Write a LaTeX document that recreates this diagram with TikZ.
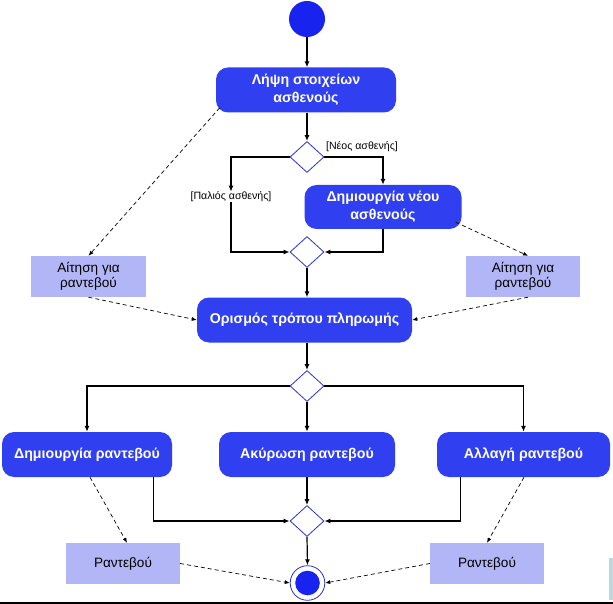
\documentclass[tikz,border=0pt]{standalone}
\usepackage{fontspec}
\setmainfont{Liberation Sans}
\usetikzlibrary{shapes.geometric,arrows.meta,calc}
\definecolor{actblue}{RGB}{48,64,240}
\definecolor{dotblue}{RGB}{25,35,240}
\definecolor{objfill}{RGB}{178,182,247}
\definecolor{diablue}{RGB}{40,50,210}
\definecolor{sliver}{RGB}{192,214,224}
\tikzset{
  act/.style={draw=none,fill=actblue,rounded corners=12pt,text=white,font=\fontsize{14.2}{18}\selectfont\bfseries,align=center,inner sep=0pt},
  obj/.style={draw=none,fill=objfill,text=black,font=\fontsize{13.6}{15.5}\selectfont,align=center,inner sep=0pt},
  dec/.style={diamond,draw=diablue,line width=0.8pt,fill=white,inner sep=0pt,minimum width=34pt,minimum height=31pt,shape aspect=1.1},
  guard/.style={font=\fontsize{10.6}{12}\selectfont,inner sep=0pt},
  flow/.style={line width=1.2pt,-{Latex[length=6pt,width=5pt]}},
  dep/.style={line width=0.7pt,dash pattern=on 4pt off 3pt,-{Latex[length=5pt,width=4pt]}}
}
\begin{document}
\begin{tikzpicture}[x=1pt,y=-1pt]
\useasboundingbox (0,0) rectangle (613,604);
% start
\node[circle,fill=dotblue,minimum size=36pt,inner sep=0pt] (start) at (307,19) {};
% activities
\node[act,minimum width=180pt,minimum height=45pt] (lipsi) at (306,90) {Λήψη στοιχείων\\ασθενούς};
\node[dec] (d1) at (307,157) {};
\node[guard] (pal) at (231,197) {[Παλιός ασθενής]};
\node[guard] (neos) at (362,147) {[Νέος ασθενής]};
\node[act,minimum width=157pt,minimum height=44pt] (nea) at (383,207) {Δημιουργία νέου\\ασθενούς};
\node[dec] (d2) at (307,252) {};
\node[obj,minimum width=115pt,minimum height=41pt] (aitL) at (88.5,276.5) {Αίτηση για\\ραντεβού};
\node[obj,minimum width=114pt,minimum height=41pt] (aitR) at (523,276.5) {Αίτηση για\\ραντεβού};
\node[act,minimum width=215pt,minimum height=45pt] (oris) at (304.5,320) {Ορισμός τρόπου πληρωμής};
\node[dec] (d3) at (307,386) {};
\node[act,minimum width=170pt,minimum height=45pt] (cr) at (87,454.5) {Δημιουργία ραντεβού};
\node[act,minimum width=176pt,minimum height=45pt] (ak) at (307,454.5) {Ακύρωση ραντεβού};
\node[act,minimum width=173pt,minimum height=45pt] (al) at (523.5,454.5) {Αλλαγή ραντεβού};
\node[dec] (d4) at (307,521) {};
\node[obj,minimum width=114pt,minimum height=41pt] (rL) at (123,563.5) {Ραντεβού};
\node[obj,minimum width=114pt,minimum height=41pt] (rR) at (487,563.5) {Ραντεβού};
% end
\node[circle,draw=diablue,line width=0.8pt,fill=white,minimum size=34.6pt,inner sep=0pt] (end) at (307.5,583) {};
\node[circle,fill=dotblue,minimum size=24.6pt,inner sep=0pt] (endin) at (end) {};
% control flow
\draw[flow] (start.south) -- (start.south |- lipsi.north);
\draw[flow] (start.south |- lipsi.south) -- (d1.north);
\draw[flow] (d1.west) -| (pal.north);
\draw[flow] (pal.south) |- (d2.west);
\draw[flow] (d1.east) -| (nea.north);
\draw[flow] (nea.south) |- (d2.east);
\draw[flow] (d2.south) -- (d2.south |- oris.north);
\draw[flow] (d2.south |- oris.south) -- (d3.north);
\draw[flow] (d3.west) -| (cr.north);
\draw[flow] (d3.south) -- (d3.south |- ak.north);
\draw[flow] (d3.east) -| (al.north);
\draw[flow] ($(cr.south east)+(-19,0)$) |- (d4.west);
\draw[flow] (d4.north |- ak.south) -- (d4.north);
\draw[flow] ($(al.south west)+(24,0)$) |- (d4.east);
\draw[flow] (d4.south) -- (end.north);
% object flows
\draw[dep] ($(lipsi.south west)+(4,-5)$) -- (aitL.north);
\draw[dep] ($(nea.south east)+(-6,-7)$) -- ($(aitR.north)+(5,0)$);
\draw[dep] (aitL.south) -- (oris.west);
\draw[dep] ($(aitR.south)+(5,0)$) -- (oris.east);
\draw[dep] ($(cr.south)+(3,0)$) -- ($(rL.north)+(4,0)$);
\draw[dep] ($(al.south)+(0.5,0)$) -- (rR.north);
\draw[dep] (rL.east) -- (end.west);
\draw[dep] (rR.west) -- (end.east);
% frame bits
\fill[sliver] (609,558) rectangle (613,600);
\draw[line width=1.5pt] (0,602.8) -- (613,602.8);
\end{tikzpicture}
\end{document}
